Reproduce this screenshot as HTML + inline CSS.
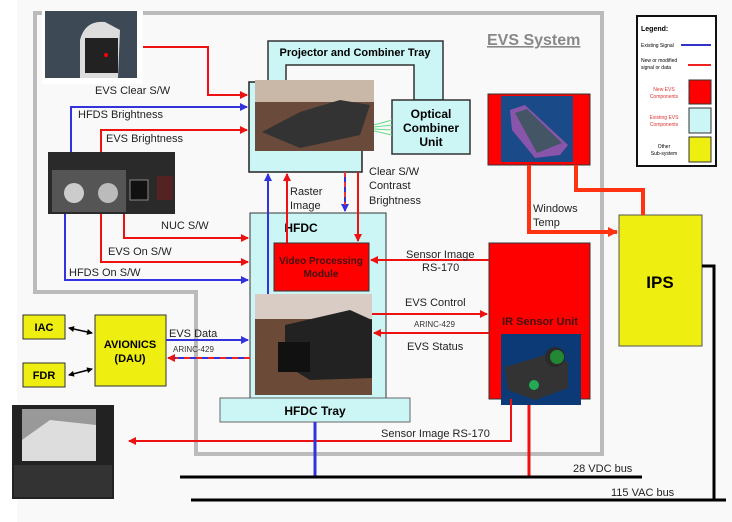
<!DOCTYPE html>
<html><head><meta charset="utf-8"><style>
html,body{margin:0;padding:0;background:#f9f9f9;}
svg{display:block;font-family:"Liberation Sans",Arial,sans-serif;}
</style></head><body>
<svg width="732" height="522" viewBox="0 0 732 522" xmlns="http://www.w3.org/2000/svg">
<defs>
<marker id="ar" markerWidth="8" markerHeight="8" refX="7" refY="4" orient="auto" markerUnits="userSpaceOnUse"><path d="M0,0 L8,4 L0,8 z" fill="#ee1111"/></marker>
<marker id="ab" markerWidth="8" markerHeight="8" refX="7" refY="4" orient="auto" markerUnits="userSpaceOnUse"><path d="M0,0 L8,4 L0,8 z" fill="#3333dd"/></marker>
<marker id="ao" markerWidth="10" markerHeight="10" refX="9" refY="5" orient="auto" markerUnits="userSpaceOnUse"><path d="M0,0 L10,5 L0,10 z" fill="#ff3311"/></marker>
<marker id="ak" markerWidth="6" markerHeight="6" refX="5" refY="3" orient="auto-start-reverse" markerUnits="userSpaceOnUse"><path d="M0,0 L6,3 L0,6 z" fill="#000"/></marker>
</defs>
<rect x="0" y="0" width="17" height="522" fill="#fff"/>
<!-- EVS system boundary -->
<path d="M35,13 L602,13 L602,454 L196,454 L196,292 L35,292 Z" fill="none" stroke="#bbbbbb" stroke-width="4"/>
<text x="487" y="45" font-size="16" font-weight="bold" fill="#888" text-decoration="underline">EVS System</text>

<!-- Projector and Combiner tray -->
<path d="M268,41 L443,41 L443,100 L414,100 L414,65 L286,65 L286,100 L268,100 Z" fill="#ccf5f5" stroke="#333" stroke-width="1.5"/>
<text x="355" y="56" font-size="11" font-weight="bold" text-anchor="middle">Projector and Combiner Tray</text>
<rect x="392" y="100" width="78" height="54" fill="#ccf5f5" stroke="#333" stroke-width="1.5"/>
<text x="431" y="118" font-size="12" font-weight="bold" text-anchor="middle">Optical</text>
<text x="431" y="132" font-size="12" font-weight="bold" text-anchor="middle">Combiner</text>
<text x="431" y="146" font-size="12" font-weight="bold" text-anchor="middle">Unit</text>
<path d="M374,125 L392,120 M374,127 L392,125 M374,129 L392,130 M374,131 L392,135" stroke="#66dd88" stroke-width="1"/>
<rect x="249" y="82" width="113" height="90" fill="#ccf5f5" stroke="#222" stroke-width="1.5"/>
<rect x="255" y="80" width="119" height="71" fill="#6a4a3a"/>
<rect x="255" y="80" width="119" height="22" fill="#c9b7a8"/>
<path d="M262,132 L300,112 L340,100 L370,105 L360,135 L300,148 Z" fill="#333"/>

<!-- HFDC -->
<rect x="250" y="213" width="136" height="197" fill="#ccf5f5" stroke="#333" stroke-width="1"/>
<text x="301" y="232" font-size="12" font-weight="bold" text-anchor="middle">HFDC</text>
<rect x="274" y="243" width="95" height="48" fill="#ff0000" stroke="#333" stroke-width="1"/>
<text x="321" y="264" font-size="10" font-weight="bold" text-anchor="middle" fill="#441111">Video Processing</text>
<text x="321" y="277" font-size="10" font-weight="bold" text-anchor="middle" fill="#441111">Module</text>
<rect x="255" y="294" width="117" height="101" fill="#6b4a38"/>
<rect x="255" y="294" width="117" height="25" fill="#d8ccc4"/>
<path d="M285,325 L350,310 L372,320 L372,378 L310,380 L285,365 Z" fill="#222"/>
<rect x="278" y="342" width="32" height="30" fill="#111"/>
<rect x="220" y="398" width="190" height="24" fill="#ccf5f5" stroke="#666" stroke-width="1"/>
<text x="315" y="415" font-size="12" font-weight="bold" text-anchor="middle">HFDC Tray</text>

<!-- Windows -->
<rect x="488" y="94" width="102" height="71" fill="#ff0000" stroke="#333" stroke-width="1"/>
<rect x="501" y="96" width="72" height="66" fill="#1a4a88"/>
<path d="M510,110 L525,105 L568,145 L560,155 L535,158 L512,130 Z" fill="#8855aa"/>
<path d="M515,113 L527,109 L562,143 L537,153 Z" fill="#445566"/>
<!-- IR Sensor -->
<rect x="489" y="243" width="101" height="156" fill="#ff0000" stroke="#333" stroke-width="1"/>
<text x="540" y="325" font-size="11" font-weight="bold" text-anchor="middle" fill="#441111">IR Sensor Unit</text>
<rect x="501" y="334" width="80" height="71" fill="#0b3a77"/>
<path d="M505,367 L545,355 L568,362 L568,388 L535,400 L508,390 Z" fill="#333"/>
<circle cx="555" cy="357" r="10" fill="#2a2a2a"/><circle cx="557" cy="357" r="7" fill="#228833"/>
<circle cx="534" cy="385" r="5" fill="#22aa55"/>

<!-- IPS -->
<rect x="619" y="215" width="83" height="131" fill="#eeee11" stroke="#555" stroke-width="1"/>
<text x="660" y="288" font-size="17" font-weight="bold" text-anchor="middle">IPS</text>

<!-- Legend -->
<rect x="637" y="16" width="79" height="150" fill="#fff" stroke="#111" stroke-width="2"/>
<text x="641" y="31" font-size="7" font-weight="bold">Legend:</text>
<text x="641" y="47" font-size="5">Existing Signal</text>
<line x1="681" y1="45" x2="711" y2="45" stroke="#3333cc" stroke-width="2"/>
<text x="641" y="62" font-size="5">New or modified</text>
<text x="641" y="69" font-size="5">signal or data</text>
<line x1="688" y1="65" x2="711" y2="65" stroke="#ee2222" stroke-width="2"/>
<rect x="689" y="80" width="22" height="24" fill="#ff0000" stroke="#333"/>
<text x="664" y="91" font-size="5" text-anchor="middle" fill="#dd3333">New EVS</text>
<text x="664" y="98" font-size="5" text-anchor="middle" fill="#dd3333">Components</text>
<rect x="689" y="108" width="22" height="25" fill="#ccf5f5" stroke="#333"/>
<text x="664" y="119" font-size="5" text-anchor="middle" fill="#dd3333">Existing EVS</text>
<text x="664" y="126" font-size="5" text-anchor="middle" fill="#dd3333">Components</text>
<rect x="689" y="137" width="22" height="25" fill="#eeee11" stroke="#333"/>
<text x="664" y="148" font-size="5" text-anchor="middle">Other</text>
<text x="664" y="155" font-size="5" text-anchor="middle">Sub-system</text>

<!-- Avionics -->
<rect x="95" y="315" width="71" height="71" fill="#eeee11" stroke="#333" stroke-width="1"/>
<text x="130" y="348" font-size="11" font-weight="bold" text-anchor="middle">AVIONICS</text>
<text x="130" y="362" font-size="11" font-weight="bold" text-anchor="middle">(DAU)</text>
<rect x="23" y="315" width="42" height="24" fill="#eeee11" stroke="#333"/>
<text x="44" y="331" font-size="11" font-weight="bold" text-anchor="middle">IAC</text>
<rect x="23" y="363" width="42" height="24" fill="#eeee11" stroke="#333"/>
<text x="44" y="379" font-size="11" font-weight="bold" text-anchor="middle">FDR</text>
<line x1="69" y1="328" x2="92" y2="333" stroke="#000" stroke-width="1.5" marker-start="url(#ak)" marker-end="url(#ak)"/>
<line x1="69" y1="375" x2="92" y2="369" stroke="#000" stroke-width="1.5" marker-start="url(#ak)" marker-end="url(#ak)"/>

<!-- Photos -->
<rect x="42" y="10" width="101" height="74" fill="#fff"/>
<rect x="45" y="11" width="92" height="67" fill="#3d4a55"/>
<path d="M80,78 L80,40 Q85,20 105,22 L120,30 L118,78 Z" fill="#ddd"/>
<rect x="85" y="38" width="33" height="35" fill="#222"/>
<circle cx="106" cy="55" r="2" fill="red"/>
<rect x="48" y="152" width="127" height="62" fill="#2a2a2a"/>
<rect x="52" y="170" width="74" height="42" fill="#555"/>
<circle cx="74" cy="193" r="10" fill="#ccc"/><circle cx="108" cy="193" r="10" fill="#bbb"/>
<rect x="130" y="180" width="18" height="20" fill="#111" stroke="#888"/>
<rect x="157" y="176" width="16" height="24" fill="#552222"/>
<rect x="12" y="405" width="102" height="94" fill="#222"/>
<rect x="22" y="409" width="74" height="52" fill="#999"/>
<path d="M22,440 L50,420 L96,425 L96,461 L22,461 Z" fill="#ddd"/>
<rect x="14" y="465" width="98" height="32" fill="#333"/>

<!-- Signal lines -->
<g fill="none" stroke-width="2">
<path d="M143,47 L208,47 L208,95 L247,95" stroke="#ee1111" marker-end="url(#ar)"/>
<path d="M71,152 L71,107 L247,107" stroke="#3333dd" marker-end="url(#ab)"/>
<path d="M101,152 L101,130 L247,130" stroke="#ee1111" marker-end="url(#ar)"/>
<path d="M124,214 L124,238 L248,238" stroke="#ee1111" marker-end="url(#ar)"/>
<path d="M101,214 L101,262 L248,262" stroke="#ee1111" marker-end="url(#ar)"/>
<path d="M65,214 L65,280 L248,280" stroke="#3333dd" marker-end="url(#ab)"/>
<path d="M268,294 L268,174" stroke="#3333dd" marker-end="url(#ab)"/>
<path d="M287,243 L287,174" stroke="#ee1111" marker-end="url(#ar)"/>
<path d="M358,172 L358,241" stroke="#ee1111" marker-end="url(#ar)"/>
<path d="M345,172 L345,211" stroke="#3333dd" marker-end="url(#ab)"/>
<path d="M345,172 L345,205" stroke="#ee3333" stroke-dasharray="5,5"/>
<path d="M489,260 L371,260" stroke="#ee1111" marker-end="url(#ar)"/>
<path d="M372,314 L487,314" stroke="#ee1111" marker-end="url(#ar)"/>
<path d="M489,333 L374,333" stroke="#ee1111" marker-end="url(#ar)"/>
<path d="M166,340 L248,340" stroke="#3333dd" marker-end="url(#ab)"/>
<path d="M250,358 L168,358" stroke="#3333dd" marker-end="url(#ar)"/>
<path d="M250,358 L176,358" stroke="#ee2222" stroke-dasharray="6,6"/>
<path d="M511,399 L511,441 L129,441" stroke="#ee1111" marker-end="url(#ar)"/>
<path d="M529,405 L529,477" stroke="#ee1111" stroke-width="3"/>
<path d="M315,422 L315,477" stroke="#3333dd" stroke-width="3"/>
<path d="M529,165 L529,232 L617,232" stroke="#ff3311" stroke-width="4" marker-end="url(#ao)"/>
<path d="M576,165 L576,190 L643,190 L643,215" stroke="#ff3311" stroke-width="4"/>
<path d="M180,477 L642,477" stroke="#000" stroke-width="3"/>
<path d="M191,500 L726,500" stroke="#000" stroke-width="3"/>
<path d="M702,266 L714,266 L714,500" stroke="#000" stroke-width="3"/>
</g>

<!-- Labels -->
<g font-size="11" fill="#222">
<text x="95" y="94">EVS Clear S/W</text>
<text x="78" y="118">HFDS Brightness</text>
<text x="106" y="142">EVS Brightness</text>
<text x="161" y="229">NUC S/W</text>
<text x="108" y="255">EVS On S/W</text>
<text x="69" y="276">HFDS On S/W</text>
<text x="290" y="195">Raster</text>
<text x="290" y="209">Image</text>
<text x="369" y="175">Clear S/W</text>
<text x="369" y="189">Contrast</text>
<text x="369" y="204">Brightness</text>
<text x="533" y="212">Windows</text>
<text x="533" y="226">Temp</text>
<text x="406" y="258">Sensor Image</text>
<text x="422" y="271">RS-170</text>
<text x="405" y="306">EVS Control</text>
<text x="407" y="350">EVS Status</text>
<text x="169" y="337">EVS Data</text>
<text x="381" y="437">Sensor Image RS-170</text>
<text x="573" y="472">28 VDC bus</text>
<text x="611" y="496">115 VAC bus</text>
</g>
<text x="414" y="327" font-size="8" fill="#333">ARINC-429</text>
<text x="173" y="352" font-size="8" fill="#333">ARINC-429</text>
</svg>
</body></html>
